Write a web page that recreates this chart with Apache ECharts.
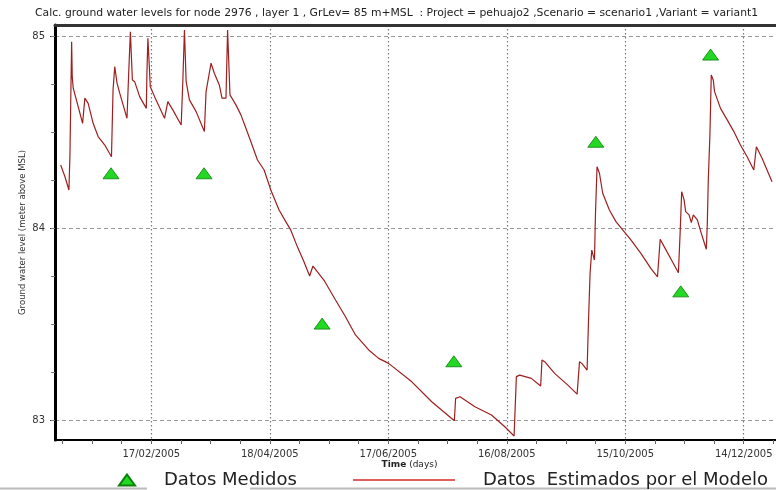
<!DOCTYPE html>
<html>
<head>
<meta charset="utf-8">
<script src="https://cdn.jsdelivr.net/npm/echarts@6/dist/echarts.min.js"></script>
<style>
html,body{margin:0;padding:0;background:#fff;}
#chart{width:776px;height:490px;}
</style>
</head>
<body>
<div id="chart"></div>
<script>
// Days since 2005-01-01 (x) and simulated ground water level (m above MSL)
var modelDay = [1.11,3.28,5.29,5.80,6.66,6.96,7.46,9.98,12.20,13.36,15.03,17.55,20.07,23.45,26.83,27.63,28.49,29.65,31.01,34.69,
  35.55,36.41,37.42,38.58,41.10,44.48,44.78,45.28,46.50,48.66,53.71,55.37,57.89,62.13,62.93,63.79,64.65,66.31,69.69,73.88,
  74.73,75.54,77.26,78.92,81.44,82.80,84.82,85.63,86.84,89.86,92.38,94.91,97.43,100.76,104.14,107.51,111.70,115.08,117.60,120.93,
  124.31,127.18,128.85,134.39,140.29,145.33,150.38,157.09,162.13,167.17,178.92,189.01,200.45,201.11,203.33,210.89,219.26,226.02,230.71,231.87,
  233.59,239.44,244.17,244.83,246.19,251.23,257.94,262.63,263.84,265.00,267.68,268.38,269.19,270.05,271.41,271.91,272.72,273.93,275.59,278.97,
  282.30,285.68,289.86,294.91,299.95,303.33,304.69,306.71,310.89,313.92,314.78,315.58,316.79,317.60,319.31,320.47,321.48,323.50,325.52,328.04,
  328.54,329.05,329.90,330.56,331.57,332.22,335.25,338.63,342.01,345.33,348.71,352.09,353.40,356.28,358.80,361.32];
var modelLevel = [84.328,84.267,84.198,84.380,84.970,84.788,84.728,84.632,84.545,84.676,84.649,84.545,84.476,84.432,84.371,84.719,84.840,84.754,84.702,84.571,
  84.806,85.022,84.771,84.762,84.684,84.623,84.806,84.988,84.736,84.684,84.571,84.658,84.615,84.536,84.754,85.031,84.762,84.667,84.606,84.502,
  84.710,84.719,84.858,84.806,84.745,84.676,84.676,85.031,84.693,84.641,84.589,84.519,84.449,84.354,84.302,84.198,84.094,84.033,83.990,83.903,
  83.824,83.750,83.802,83.729,83.625,83.538,83.443,83.365,83.321,83.295,83.199,83.095,82.996,83.113,83.121,83.069,83.026,82.965,82.917,83.226,
  83.234,83.217,83.177,83.313,83.304,83.243,83.182,83.135,83.304,83.295,83.260,83.512,83.764,83.885,83.833,84.068,84.319,84.285,84.181,84.094,
  84.033,83.990,83.938,83.868,83.790,83.746,83.941,83.903,83.824,83.767,83.972,84.189,84.146,84.085,84.068,84.028,84.068,84.042,83.972,83.889,
  84.016,84.250,84.493,84.797,84.771,84.710,84.623,84.563,84.502,84.432,84.371,84.302,84.423,84.363,84.302,84.241];

// Measured data (days since 2005-01-01, level)
var measuredDay = [26.6,73.7,133.5,200.2,272.1,315.1,330.2];
var measuredLevel = [84.285,84.285,83.502,83.306,84.449,83.670,84.903];

// Axis ticks
var xTickDays = [47,107,167,227,287,347];
var xTickLabels = ['17/02/2005','18/04/2005','17/06/2005','16/08/2005','15/10/2005','14/12/2005'];
var xMinorDays = [2,17,32,47,62,77,92,107,122,137,152,167,182,197,212,227,242,257,272,287,302,317,332,347,362];
var yTickValues = [83,84,85];
var yMinorValues = [83,83.25,83.5,83.75,84,84.25,84.5,84.75,85];

var seriesNames = ['Datos Medidos','Datos  Estimados por el Modelo'];
var titleText = 'Calc. ground water levels for node 2976 , layer 1 , GrLev= 85 m+MSL  : Project = pehuajo2 ,Scenario = scenario1 ,Variant = variant1';

var FONT = 'DejaVu Sans';
var chart = echarts.init(document.getElementById('chart'), null, {renderer:'canvas'});

var modelData = modelDay.map(function(d,i){return [d, modelLevel[i]];});
var measuredData = measuredDay.map(function(d,i){return [d, measuredLevel[i]];});

chart.setOption({
  animation:false,
  backgroundColor:'#fff',
  title:{
    text:titleText, left:30, top:3,
    textStyle:{fontFamily:FONT,fontSize:10.8,fontWeight:'normal',color:'#222'}
  },
  grid:{left:55, right:-3, top:25, bottom:50, containLabel:false},
  legend:[
    {
      data:[{name:seriesNames[0], icon:'triangle'}],
      left:118, top:471, padding:0, selectedMode:false,
      itemWidth:16, itemHeight:11,
      formatter:function(n){return '{g|}'+n;},
      textStyle:{fontFamily:FONT,fontSize:18,color:'#222',rich:{g:{width:24}}}
    },
    {
      data:[{name:seriesNames[1], icon:'rect', itemStyle:{color:'#d42a2a'}}],
      left:353, top:471, padding:0, selectedMode:false,
      itemWidth:102, itemHeight:1.5,
      formatter:function(n){return '{g|}'+n;},
      textStyle:{fontFamily:FONT,fontSize:18,color:'#222',rich:{g:{width:23}}}
    }
  ],
  xAxis:[
    {
      type:'value', min:-1.765, max:363.34, position:'bottom',
      name:'{b|Time} (days)', nameLocation:'middle', nameGap:20, nameMoveOverlap:false,
      nameTextStyle:{fontFamily:FONT,fontSize:9,color:'#222',padding:[0,12,0,0],rich:{b:{fontWeight:'bold',fontFamily:FONT,fontSize:9,color:'#222'}}},
      axisLine:{show:true,onZero:false,lineStyle:{color:'#000',width:2}},
      axisTick:{show:false, customValues:xTickDays},
      axisLabel:{customValues:xTickDays, margin:9, fontFamily:FONT, fontSize:10, color:'#333',
        formatter:function(v){var i=xTickDays.indexOf(Math.round(v));return i>=0?xTickLabels[i]:'';}},
      splitLine:{show:true,lineStyle:{color:'#777',width:1.2,type:[1.5,2.5]}}
    },
    {
      type:'value', min:-1.765, max:363.34, position:'bottom', offset:0,
      axisLine:{show:false,onZero:false},
      axisTick:{show:true, customValues:xMinorDays, length:4, inside:false, lineStyle:{color:'#666',width:1}},
      axisLabel:{show:false},
      splitLine:{show:false}
    },
    {
      type:'value', min:-1.765, max:363.34, position:'top',
      axisLine:{show:true,onZero:false,lineStyle:{color:'#333',width:3}},
      axisTick:{show:false}, axisLabel:{show:false}, splitLine:{show:false}
    }
  ],
  yAxis:[
    {
      type:'value', min:82.896, max:85.057, position:'left',
      name:'Ground water level (meter above MSL)', nameLocation:'middle', nameGap:28, nameRotate:90, nameMoveOverlap:false,
      nameTextStyle:{fontFamily:FONT,fontSize:8.5,color:'#333'},
      axisLine:{show:true,onZero:false,lineStyle:{color:'#000',width:3}},
      axisTick:{show:true, customValues:yTickValues, length:5, lineStyle:{color:'#444'}},
      axisLabel:{customValues:yTickValues, margin:10, fontFamily:FONT, fontSize:10, color:'#333'},
      splitLine:{show:true,lineStyle:{color:'#999',width:1,type:[4,3]}}
    },
    {
      type:'value', min:82.896, max:85.057, position:'left', offset:0,
      axisLine:{show:false,onZero:false},
      axisTick:{show:true, customValues:yMinorValues, length:4, lineStyle:{color:'#777'}},
      axisLabel:{show:false}, splitLine:{show:false}
    }
  ],
  series:[
    {
      name:seriesNames[1], type:'line', xAxisIndex:0, yAxisIndex:0,
      data:modelData, showSymbol:false, symbol:'none', clip:true,
      lineStyle:{color:'#9e1f1f', width:1.2},
      itemStyle:{color:'#d42a2a'}, z:2
    },
    {
      name:seriesNames[0], type:'scatter', xAxisIndex:0, yAxisIndex:0,
      data:measuredData, symbol:'triangle', symbolSize:[16,11],
      itemStyle:{color:'#22d822', borderColor:'#0b800b', borderWidth:0.8, opacity:1}, z:3
    }
  ],
  graphic:[
    {type:'line', shape:{x1:0,y1:488.5,x2:147,y2:488.5}, style:{stroke:'#bbb',lineWidth:2}, silent:true},
    {type:'line', shape:{x1:250,y1:488.5,x2:776,y2:488.5}, style:{stroke:'#bbb',lineWidth:2}, silent:true}
  ]
});
</script>
</body>
</html>
